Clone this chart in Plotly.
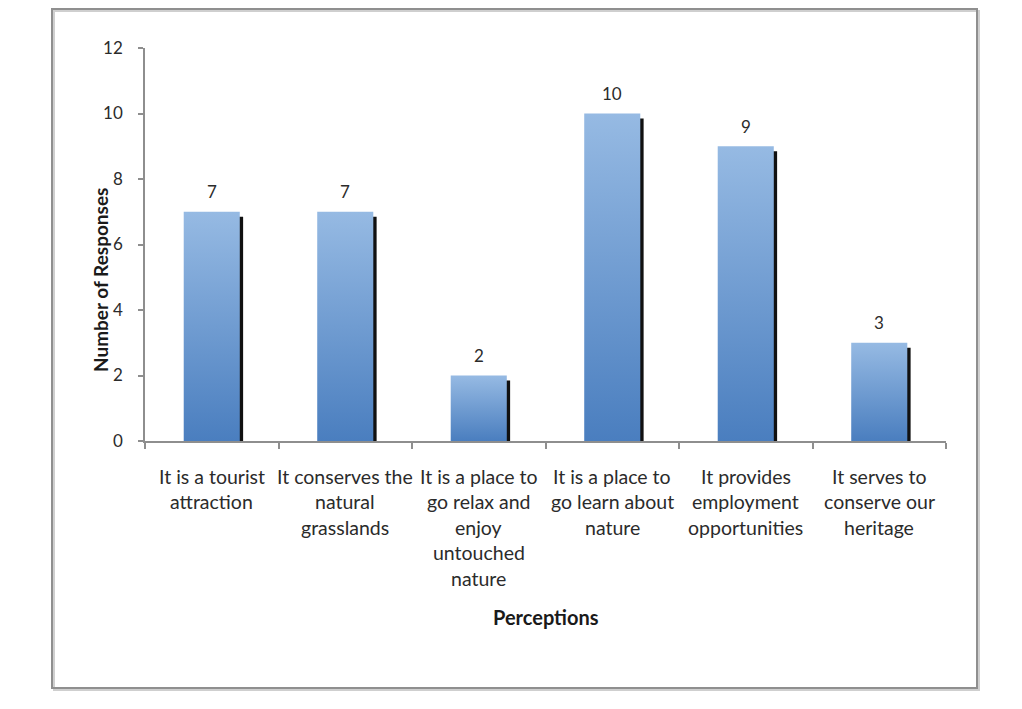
import plotly.graph_objects as go

# Survey results: perceptions of the reserve
categories = [
    "It is a tourist\nattraction",
    "It conserves the\nnatural\ngrasslands",
    "It is a place to\ngo relax and\nenjoy\nuntouched\nnature",
    "It is a place to\ngo learn about\nnature",
    "It provides\nemployment\nopportunities",
    "It serves to\nconserve our\nheritage",
]
responses = [7, 7, 2, 10, 9, 3]
y_ticks = [0, 2, 4, 6, 8, 10, 12]

W, H = 1022, 709
L, R, T, B = 145, 76, 48, 268
PW, PH = W - L - R, H - T - B

FONT = "Lato"
TXT = "#2b2b2b"
AXIS = "#8e8e8e"
BAR_W = 0.42
SH_DX = 0.025   # shadow offset to the right (category units)
SH_DY = 0.15    # shadow drop (value units)


def px_x(px):
    return (px - L) / PW


def px_y(py):
    return (H - B - py) / PH


fig = go.Figure()
xs = list(range(len(categories)))

# drop shadow on the right side of each bar
fig.add_trace(go.Bar(
    x=xs, y=[v - SH_DY for v in responses],
    width=BAR_W, offset=-BAR_W / 2 + SH_DX,
    marker=dict(color="#111111", line=dict(width=0)),
    hoverinfo="skip", showlegend=False,
))

# bars with a vertical blue gradient
for i, v in enumerate(responses):
    x0, x1 = i - BAR_W / 2, i + BAR_W / 2
    fig.add_trace(go.Scatter(
        x=[x0, x1, x1, x0, x0], y=[0, 0, v, v, 0],
        mode="lines", line=dict(width=0),
        fill="toself",
        fillgradient=dict(type="vertical", start=0, stop=v,
                          colorscale=[[0, "#4a7ebf"], [1, "#96bae3"]]),
        hoverinfo="skip", showlegend=False,
    ))

annotations = []
# value labels above the bars
for i, v in enumerate(responses):
    annotations.append(dict(
        x=i, y=v, xref="x", yref="y", text=str(v), showarrow=False,
        yshift=20, font=dict(family=FONT, size=17, color=TXT),
    ))

# category labels, one annotation per line
LINE = 25.5
for i, c in enumerate(categories):
    for k, line in enumerate(c.split("\n")):
        annotations.append(dict(
            x=i, xref="x", y=px_y(476 + k * LINE), yref="paper",
            text=line, showarrow=False, yanchor="middle",
            font=dict(family=FONT, size=19.5, color=TXT),
        ))

annotations.append(dict(
    x=0.5, y=px_y(617), xref="paper", yref="paper", text="<b>Perceptions</b>",
    showarrow=False, yanchor="middle",
    font=dict(family=FONT, size=20, color="#1a1a1a"),
))
annotations.append(dict(
    x=px_x(100), y=px_y(280), xref="paper", yref="paper",
    text="<b>Number of Responses</b>", textangle=-90, showarrow=False,
    xanchor="center", yanchor="middle",
    font=dict(family=FONT, size=19, color="#1a1a1a"),
))

shapes = [
    # chart frame with a soft shadow
    dict(type="rect", xref="paper", yref="paper",
         x0=px_x(54), x1=px_x(979), y0=px_y(690), y1=px_y(11),
         line=dict(color="#cfcfcf", width=2), layer="below"),
    dict(type="rect", xref="paper", yref="paper",
         x0=px_x(52), x1=px_x(977), y0=px_y(688), y1=px_y(9),
         line=dict(color="#8f8f8f", width=2), layer="below"),
]

fig.update_layout(
    width=W, height=H,
    margin=dict(l=L, r=R, t=T, b=B, pad=0),
    paper_bgcolor="white", plot_bgcolor="white",
    barmode="overlay", showlegend=False,
    annotations=annotations, shapes=shapes,
    font=dict(family=FONT, color=TXT),
    xaxis=dict(
        range=[-0.5, len(categories) - 0.5],
        tickvals=[i - 0.5 for i in range(len(categories) + 1)],
        ticktext=[""] * (len(categories) + 1),
        ticks="outside", ticklen=6, tickcolor=AXIS, tickwidth=1.5,
        showline=True, linecolor=AXIS, linewidth=1.5,
        showgrid=False, zeroline=False, fixedrange=True,
    ),
    yaxis=dict(
        range=[0, 12], tickvals=y_ticks,
        ticks="outside", ticklen=5, tickcolor=AXIS, tickwidth=1.5,
        showline=True, linecolor=AXIS, linewidth=1.5,
        showgrid=False, zeroline=False, fixedrange=True,
        ticklabelstandoff=12,
        tickfont=dict(family=FONT, size=17, color=TXT),
    ),
)

fig.write_html("out.html")
